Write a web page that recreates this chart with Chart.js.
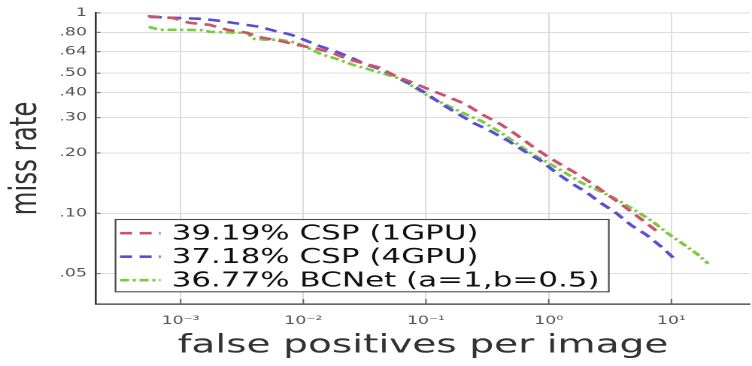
<!DOCTYPE html>
<html>
<head>
<meta charset="utf-8">
<script src="https://cdn.jsdelivr.net/npm/chart.js@4.4.1/dist/chart.umd.min.js"></script>
<style>
  html, body { margin: 0; padding: 0; background: #fff; overflow: hidden; }
  /* the source figure is stretched sideways, so the whole chart is drawn narrow and widened */
  #wrap { position: absolute; left: 0; top: 0; width: 500px; height: 366px; transform: scaleX(1.504); transform-origin: 0 0; }
</style>
</head>
<body>
<div id="wrap"><canvas id="chart"></canvas></div>
<script>
const cspOneFppi = [5.40e-4, 8.61e-4, 1.18e-3, 1.72e-3, 2.41e-3, 3.44e-3, 4.64e-3, 6.38e-3, 8.77e-3, 0.0128, 0.0172, 0.0224, 0.0313, 0.0415, 0.0570, 0.0769, 0.106, 0.148, 0.211, 0.285, 0.407, 0.540, 0.728, 0.964, 1.32, 1.75, 2.41, 3.25, 4.23, 5.60, 7.14, 7.83]
const cspOneMiss = [0.963, 0.944, 0.892, 0.872, 0.823, 0.796, 0.752, 0.726, 0.694, 0.663, 0.633, 0.591, 0.559, 0.534, 0.482, 0.450, 0.415, 0.383, 0.350, 0.312, 0.278, 0.248, 0.217, 0.193, 0.172, 0.156, 0.137, 0.120, 0.107, 0.094, 0.084, 0.080]

const cspFourFppi = [5.60e-4, 9.28e-4, 1.48e-3, 2.07e-3, 3.02e-3, 4.39e-3, 5.81e-3, 7.98e-3, 0.0106, 0.0140, 0.0185, 0.0246, 0.0325, 0.0431, 0.0570, 0.0755, 0.100, 0.135, 0.185, 0.245, 0.337, 0.473, 0.627, 0.861, 1.16, 1.51, 2.04, 2.70, 3.57, 4.73, 6.27, 8.30, 11.0]
const cspFourMiss = [0.955, 0.944, 0.934, 0.913, 0.882, 0.852, 0.814, 0.778, 0.726, 0.678, 0.641, 0.598, 0.552, 0.522, 0.482, 0.440, 0.397, 0.350, 0.312, 0.282, 0.257, 0.229, 0.205, 0.183, 0.159, 0.142, 0.127, 0.112, 0.100, 0.087, 0.078, 0.068, 0.058]

const bcnetFppi = [5.50e-4, 6.75e-4, 9.81e-4, 1.51e-3, 1.72e-3, 2.85e-3, 3.51e-3, 3.85e-3, 5.00e-3, 6.38e-3, 8.77e-3, 0.0112, 0.0143, 0.0185, 0.0250, 0.0344, 0.0473, 0.0602, 0.0830, 0.112, 0.154, 0.211, 0.285, 0.415, 0.540, 0.728, 1.00, 1.37, 1.85, 2.55, 3.51, 4.73, 6.87, 9.46, 13.0, 16.6, 20.0]
const bcnetMiss = [0.852, 0.823, 0.823, 0.820, 0.805, 0.796, 0.796, 0.743, 0.735, 0.735, 0.710, 0.663, 0.619, 0.591, 0.552, 0.522, 0.493, 0.471, 0.420, 0.375, 0.342, 0.312, 0.288, 0.251, 0.224, 0.198, 0.178, 0.159, 0.142, 0.130, 0.118, 0.106, 0.092, 0.079, 0.069, 0.062, 0.056]

const seriesNames = ["39.19% CSP (1GPU)", "37.18% CSP (4GPU)", "36.77% BCNet (a=1,b=0.5)"]

const xTickValues = [1e-3, 1e-2, 1e-1, 1, 10]
const xTickLabels = ["10\u207B\u00B3", "10\u207B\u00B2", "10\u207B\u00B9", "10\u2070", "10\u00B9"]
const yTickValues = [0.05, 0.1, 0.2, 0.3, 0.4, 0.5, 0.64, 0.8, 1]
const yTickLabels = [".05", ".10", ".20", ".30", ".40", ".50", ".64", ".80", "1"]

const points = (xs, ys) => xs.map((x, i) => ({ x, y: ys[i] }))

const boxLegend = {
  id: "boxLegend",
  afterDatasetsDraw(chart) {
    const { ctx, chartArea } = chart
    const left = chartArea.left + 13
    const top = chartArea.bottom - 84.5
    const w = 328, h = 72.3
    ctx.save()
    ctx.fillStyle = "#fff"
    ctx.fillRect(left, top, w, h)
    ctx.setLineDash([])
    ctx.strokeStyle = "#4a4a4a"
    ctx.lineWidth = 1.1
    ctx.strokeRect(left, top, w, h)
    ctx.font = '20.6px "DejaVu Sans"'
    ctx.textBaseline = "middle"
    ctx.fillStyle = "#111"
    chart.data.datasets.forEach((ds, i) => {
      const y = top + 13.7 + i * 23.5
      ctx.save()
      ctx.strokeStyle = ds.borderColor
      ctx.lineWidth = ds.borderWidth
      ctx.setLineDash(ds.borderDash)
      ctx.beginPath()
      ctx.moveTo(left + 3, y)
      ctx.lineTo(left + 30, y)
      ctx.stroke()
      ctx.restore()
      ctx.fillText(ds.label, left + 37.3, y + 1)
    })
    ctx.restore()
  }
}

const innerTicks = {
  id: "innerTicks",
  afterDraw(chart) {
    const { ctx, chartArea, scales } = chart
    ctx.save()
    ctx.strokeStyle = "#666"
    ctx.lineWidth = 1
    yTickValues.forEach((v) => {
      const y = scales.y.getPixelForValue(v)
      ctx.beginPath(); ctx.moveTo(chartArea.left, y); ctx.lineTo(chartArea.left + 3, y); ctx.stroke()
    })
    xTickValues.forEach((v) => {
      const x = scales.x.getPixelForValue(v)
      ctx.beginPath(); ctx.moveTo(x, chartArea.bottom); ctx.lineTo(x, chartArea.bottom - 5); ctx.stroke()
    })
    ctx.restore()
  }
}

new Chart(document.getElementById("chart"), {
  type: "line",
  data: {
    datasets: [
      { label: seriesNames[0], data: points(cspOneFppi, cspOneMiss), borderColor: "#cc5468", borderWidth: 2.6, borderDash: [8, 5] },
      { label: seriesNames[1], data: points(cspFourFppi, cspFourMiss), borderColor: "#5a4fd4", borderWidth: 2.6, borderDash: [8, 5] },
      { label: seriesNames[2], data: points(bcnetFppi, bcnetMiss), borderColor: "#78cc3e", borderWidth: 2.6, borderDash: [6, 2.5, 2, 2.5] }
    ]
  },
  options: {
    responsive: true,
    maintainAspectRatio: false,
    animation: false,
    devicePixelRatio: 2,
    layout: { padding: { top: 11, left: 0, right: 0, bottom: 0 } },
    elements: { point: { radius: 0 }, line: { tension: 0, fill: false } },
    plugins: { legend: { display: false }, tooltip: { enabled: false } },
    scales: {
      x: {
        type: "logarithmic",
        min: 2.04e-4,
        max: 43.8,
        afterFit: (scale) => { scale.height = 62 },
        afterBuildTicks: (scale) => { scale.ticks = xTickValues.map((value) => ({ value })) },
        ticks: {
          autoSkip: false,
          maxRotation: 0,
          padding: 10,
          color: "#555",
          font: { family: "DejaVu Sans", size: 11.5 },
          callback: (value, index) => xTickLabels[index]
        },
        grid: { color: "#dcdcdc", lineWidth: 1, drawTicks: false },
        border: { display: true, color: "#333", width: 1.3 },
        title: {
          display: true,
          text: "false positives per image",
          color: "#333",
          font: { family: "DejaVu Sans", size: 26 },
          padding: { top: 0, bottom: 4.5 }
        }
      },
      y: {
        type: "logarithmic",
        min: 0.03526,
        max: 1,
        afterFit: (scale) => { scale.width = 63.8 },
        afterBuildTicks: (scale) => { scale.ticks = yTickValues.map((value) => ({ value })) },
        ticks: {
          autoSkip: false,
          padding: 6,
          color: "#555",
          font: { family: "DejaVu Sans", size: 11.5 },
          callback: (value, index) => yTickLabels[index]
        },
        grid: { color: "#dcdcdc", lineWidth: 1, drawTicks: false },
        border: { display: true, color: "#333", width: 1.3 },
        title: {
          display: true,
          text: "miss rate",
          color: "#333",
          font: { family: "DejaVu Sans", size: 24.5 },
          padding: { top: 3, bottom: 0 }
        }
      }
    }
  },
  plugins: [boxLegend, innerTicks]
})
</script>
</body>
</html>
